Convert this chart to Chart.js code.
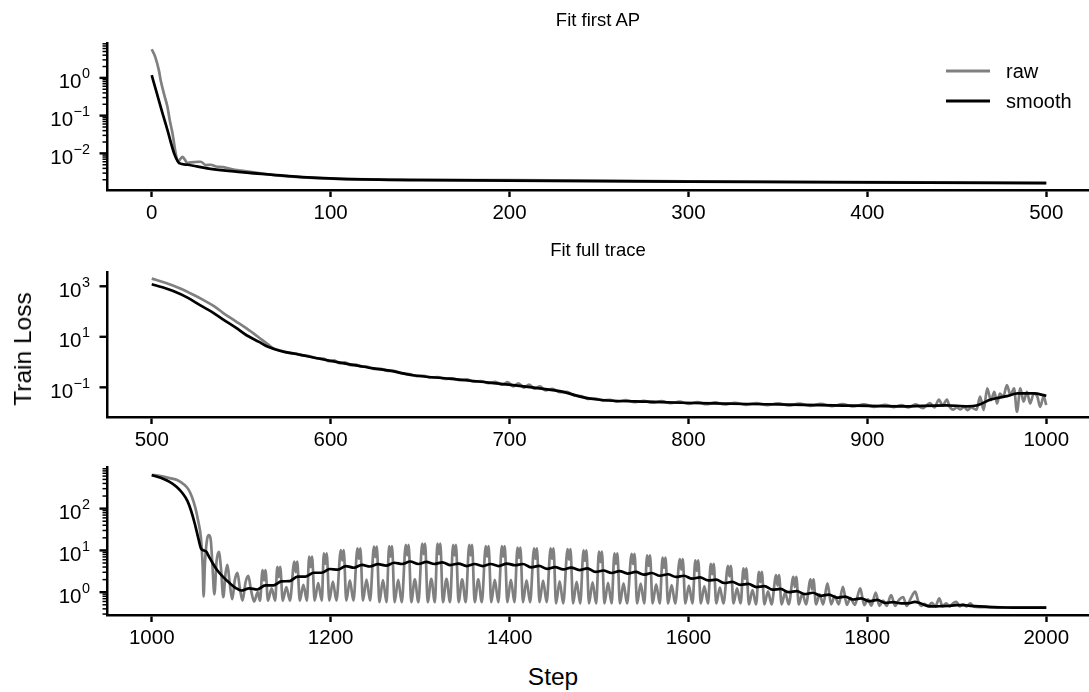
<!DOCTYPE html>
<html>
<head>
<meta charset="utf-8">
<script src="https://cdn.jsdelivr.net/npm/chart.js@4.4.1/dist/chart.umd.min.js"></script>
<style>
  html, body { margin: 0; padding: 0; background: #fff; width: 1089px; height: 692px; overflow: hidden; }
  canvas { position: absolute; left: 0; }
  .txt { position: absolute; font-family: "Liberation Sans", Arial, Helvetica, sans-serif; color: #000; white-space: nowrap; transform: translate(-50%, -50%); }
  #title1 { left: 598px; top: 20px; font-size: 18.5px; }
  #title2 { left: 598px; top: 250px; font-size: 18.5px; }
  #ylabel { left: 23px; top: 349px; font-size: 24.5px; transform: translate(-50%, -50%) rotate(-90deg); }
  #xlabel { left: 553px; top: 677px; font-size: 24.5px; }
</style>
</head>
<body>
<canvas id="p1" width="1091" height="240" style="top:0px"></canvas>
<canvas id="p2" width="1091" height="215" style="top:240px"></canvas>
<canvas id="p3" width="1091" height="200" style="top:455px"></canvas>
<div class="txt" id="title1">Fit first AP</div>
<div class="txt" id="title2">Fit full trace</div>
<div class="txt" id="ylabel">Train Loss</div>
<div class="txt" id="xlabel">Step</div>
<script>
// ---- panel 1: Fit first AP ----
const p1RawStep = [0, 2, 4, 5, 7, 8.8, 10, 11.6, 13.4, 14.7, 16, 17.2, 18.5, 19.9, 22, 24.5, 27.4, 30.2, 33, 36, 40, 45, 50, 60, 70, 85, 100, 150, 200, 300, 400, 500];
const p1RawLoss = [5.75, 3.55, 1.58, 0.87, 0.355, 0.17, 0.079, 0.034, 0.010, 0.0060, 0.0071, 0.0081, 0.0068, 0.0056, 0.0058, 0.0059, 0.0060, 0.0049, 0.0050, 0.0045, 0.0043, 0.0038, 0.0035, 0.0030, 0.0026, 0.0023, 0.00215, 0.0020, 0.00195, 0.00182, 0.00173, 0.00165];
const p1SmoothStep = [0, 3, 6, 9, 12.5, 14.4, 15.3, 20, 31, 50, 68, 87, 106, 150, 200, 300, 400, 500];
const p1SmoothLoss = [1.18, 0.37, 0.117, 0.038, 0.010, 0.0063, 0.0055, 0.0050, 0.0040, 0.0032, 0.0027, 0.0023, 0.0021, 0.00195, 0.0019, 0.00178, 0.0017, 0.00162];
const p1XTicks = [0, 100, 200, 300, 400, 500];
const p1YMajor = [0.01, 0.1, 1];
const p1YExp = ['\u22122', '\u22121', '0'];
const p1YMinor = [0.002, 0.003, 0.004, 0.005, 0.006, 0.007, 0.008, 0.009, 0.02, 0.03, 0.04, 0.05, 0.06, 0.07, 0.08, 0.09, 0.2, 0.3, 0.4, 0.5, 0.6, 0.7, 0.8, 0.9, 2, 3, 4, 5, 6, 7, 8];

// ---- panel 2: Fit full trace ----
const p2RawStep = [500, 508, 516, 523, 529, 535, 540, 547, 553, 559, 565, 568, 572, 576, 580, 584, 588, 592, 596, 599, 602, 605, 608, 611, 614, 617, 620, 624, 628, 632, 636, 640, 644, 648, 652, 656, 660, 664, 668, 672, 676, 680, 684, 688, 692, 696, 699, 702, 705, 708, 711, 714, 717, 720, 724, 728, 732, 736, 740, 744, 748, 752, 756, 760, 765, 770, 775, 780, 785, 790, 795, 800, 805, 810, 815, 820, 826, 832, 838, 844, 850, 856, 862, 868, 874, 880, 886, 892, 898, 904, 910, 915, 919, 923, 927, 931, 935, 937.5, 940, 942, 944.5, 946, 948, 950, 952, 954, 956, 958, 961, 963, 965, 967, 969, 971, 972.5, 974, 976, 978, 980, 982, 983.6, 985.5, 987.3, 989.2, 991, 993, 995, 996.6, 998.5, 1000];
const p2RawLoss = [2000, 1350, 813, 470, 282, 160, 87, 41, 21.4, 10.5, 5.0, 3.5, 2.85, 2.35, 2.2, 1.85, 1.72, 1.42, 1.38, 1.08, 1.16, 0.90, 0.98, 0.76, 0.80, 0.66, 0.66, 0.54, 0.535, 0.45, 0.44, 0.355, 0.335, 0.28, 0.285, 0.245, 0.255, 0.218, 0.226, 0.192, 0.205, 0.168, 0.178, 0.148, 0.165, 0.128, 0.16, 0.11, 0.145, 0.098, 0.128, 0.088, 0.11, 0.076, 0.088, 0.064, 0.066, 0.048, 0.045, 0.035, 0.036, 0.030, 0.032, 0.027, 0.031, 0.026, 0.029, 0.0245, 0.0285, 0.0235, 0.027, 0.0222, 0.0262, 0.0215, 0.0252, 0.021, 0.0245, 0.0204, 0.0238, 0.0198, 0.0232, 0.0192, 0.0225, 0.0185, 0.022, 0.018, 0.0215, 0.0175, 0.021, 0.017, 0.0205, 0.0165, 0.0198, 0.016, 0.021, 0.015, 0.024, 0.016, 0.033, 0.019, 0.033, 0.017, 0.0132, 0.016, 0.0135, 0.017, 0.0126, 0.016, 0.013, 0.043, 0.0126, 0.091, 0.031, 0.066, 0.023, 0.057, 0.043, 0.123, 0.049, 0.091, 0.0107, 0.091, 0.027, 0.066, 0.023, 0.057, 0.043, 0.017, 0.043, 0.020];
const p2SmoothStep = [500, 506, 512, 520, 527, 534, 540, 547, 553, 560, 565, 572, 580, 587, 596, 606, 615, 624, 633, 646, 665, 684, 702, 721, 730, 740, 749, 758, 777, 796, 814, 844, 881, 918, 944, 956, 961, 969, 978, 984, 993, 1000];
const p2SmoothLoss = [1200, 912, 646, 355, 178, 93, 48, 23, 11.5, 6.3, 4.0, 2.75, 2.14, 1.70, 1.26, 0.93, 0.72, 0.56, 0.457, 0.30, 0.224, 0.166, 0.123, 0.083, 0.066, 0.042, 0.033, 0.0295, 0.027, 0.0245, 0.023, 0.0214, 0.0195, 0.0178, 0.0195, 0.0178, 0.019, 0.033, 0.045, 0.0575, 0.0575, 0.046];
const p2XTicks = [500, 600, 700, 800, 900, 1000];
const p2YMajor = [0.1, 10, 1000];
const p2YExp = ['\u22121', '1', '3'];
const p2YMinor = [];

// ---- panel 3 ----
const p3RawStep = [1000, 1010, 1020, 1029, 1036, 1041, 1045, 1049, 1052, 1055, 1057, 1058, 1059.5, 1062, 1064, 1066, 1068, 1070, 1072.5, 1075, 1077.5, 1080, 1082.5, 1084.6, 1087, 1090, 1093, 1095.8, 1098.5, 1101.5, 1105, 1108, 1111, 1114.5, 1118.5, 1121,
  1123.9, 1125.5, 1127.1, 1130, 1134, 1138,
  1140.4, 1142, 1143.6, 1146.5, 1150.5, 1154.5,
  1159.4, 1161, 1162.6, 1165.5, 1169.5, 1173.5,
  1176, 1177.6, 1179.2, 1182.1, 1186.1, 1190.1,
  1192.4, 1194, 1195.6, 1198.5, 1202.5, 1206.5,
  1211.4, 1213, 1214.6, 1217.5, 1221.5, 1225.5,
  1230, 1231.6, 1233.2, 1236.1, 1240.1, 1244.1,
  1248.4, 1250, 1251.6, 1254.5, 1258.5, 1262.5,
  1265.4, 1267, 1268.6, 1271.5, 1275.5, 1279.5,
  1284, 1285.6, 1287.2, 1290.1, 1294.1, 1298.1,
  1302.4, 1304, 1305.6, 1308.5, 1312.5, 1316.5,
  1319.4, 1321, 1322.6, 1325.5, 1329.5, 1333.5,
  1336.9, 1338.5, 1340.1, 1343, 1347, 1351,
  1354.9, 1356.5, 1358.1, 1361, 1365, 1369,
  1373.4, 1375, 1376.6, 1379.5, 1383.5, 1387.5,
  1391.4, 1393, 1394.6, 1397.5, 1401.5, 1405.5,
  1408.9, 1410.5, 1412.1, 1415, 1419, 1423,
  1427.4, 1429, 1430.6, 1433.5, 1437.5, 1441.5,
  1445.9, 1447.5, 1449.1, 1452, 1456, 1460,
  1464.9, 1466.5, 1468.1, 1471, 1475, 1479,
  1482.7, 1484.3, 1485.9, 1488.8, 1492.8, 1496.8,
  1500, 1501.6, 1503.2, 1506.1, 1510.1, 1514.1,
  1517.3, 1518.9, 1520.5, 1523.4, 1527.4, 1531.4,
  1536.5, 1538.1, 1539.7, 1542.6, 1546.6, 1550.6,
  1553.8, 1555.4, 1557, 1559.9, 1563.9, 1567.9,
  1571.1, 1572.7, 1574.3, 1577.2, 1581.2, 1585.2,
  1590.4, 1592, 1593.6, 1596.5, 1600.5, 1604.5,
  1607.7, 1609.3, 1610.9, 1613.8, 1617.8, 1621.8,
  1625, 1626.6, 1628.2, 1631.1, 1635.1, 1639.1,
  1644.2, 1645.8, 1647.4, 1650.3, 1654.3, 1658.3,
  1661.5, 1663.1, 1664.7, 1667.6, 1671.6, 1675.6,
  1678.8, 1680.4, 1682, 1684.9, 1688.9, 1692.9,
  1698, 1699.6, 1701.2, 1704.1, 1708.1, 1712.1,
  1717.3, 1718.9, 1720.5, 1723.4, 1727.4, 1731.4,
  1736.5, 1738.1, 1739.7, 1742.6, 1746.6, 1750.6,
  1755.4, 1759.5, 1763.5, 1768, 1772.7, 1777, 1781, 1786, 1792, 1796.5, 1800.5, 1804.5, 1809.3, 1813.5, 1817.5, 1821.5, 1826.6, 1831, 1835.5, 1840, 1844, 1848.5, 1853.5, 1857, 1860, 1864, 1868, 1872, 1876, 1880.4, 1884, 1888, 1892, 1896, 1899.6, 1903, 1907, 1911, 1915, 1919, 1925, 1940, 1960, 2000];
const p3RawLoss = [646, 603, 537, 479, 380, 288, 190, 100, 50, 20, 4.0, 0.79, 5.0, 19, 23.4, 17.8, 4.0, 0.89, 5.6, 9.3, 3.55, 0.76, 2.8, 4.5, 1.78, 0.68, 2.0, 2.9, 1.26, 0.63, 1.78, 2.45, 1.12, 0.60, 1.0, 0.63,
  3.39, 1.91, 3.39, 0.631, 1.23, 0.631,
  4.07, 2.29, 4.07, 0.631, 1.33, 0.631,
  5.37, 3.02, 5.37, 0.631, 1.49, 0.631,
  7.08, 3.98, 7.08, 0.631, 1.66, 0.631,
  8.51, 4.79, 8.51, 0.631, 1.79, 0.631,
  10.2, 5.75, 10.2, 0.631, 1.92, 0.631,
  11.2, 6.31, 11.2, 0.631, 2.0, 0.631,
  12.3, 6.92, 12.3, 0.575, 1.96, 0.575,
  12.6, 7.08, 12.6, 0.575, 1.98, 0.575,
  13.5, 7.59, 13.5, 0.575, 2.03, 0.575,
  14.5, 8.13, 14.5, 0.575, 2.09, 0.575,
  14.5, 8.13, 14.5, 0.575, 2.09, 0.575,
  13.5, 7.59, 13.5, 0.575, 2.03, 0.575,
  13.5, 7.59, 13.5, 0.575, 2.03, 0.575,
  12.6, 7.08, 12.6, 0.575, 1.98, 0.575,
  12.6, 7.08, 12.6, 0.575, 1.98, 0.575,
  11.7, 6.61, 11.7, 0.575, 1.92, 0.575,
  11.2, 6.31, 11.2, 0.575, 1.89, 0.575,
  11.2, 6.31, 11.2, 0.537, 1.81, 0.537,
  10.7, 6.03, 10.7, 0.537, 1.78, 0.537,
  10.0, 5.62, 10.0, 0.537, 1.73, 0.537,
  9.33, 5.25, 9.33, 0.537, 1.68, 0.537,
  8.51, 4.79, 8.51, 0.537, 1.62, 0.537,
  8.32, 4.68, 8.32, 0.537, 1.61, 0.537,
  7.59, 4.27, 7.59, 0.537, 1.55, 0.537,
  6.76, 3.80, 6.76, 0.537, 1.48, 0.537,
  6.17, 3.47, 6.17, 0.537, 1.43, 0.537,
  5.75, 3.24, 5.75, 0.537, 1.39, 0.537,
  4.79, 2.69, 4.79, 0.537, 1.29, 0.537,
  4.27, 2.40, 4.27, 0.537, 1.23, 0.537,
  3.72, 2.09, 3.72, 0.513, 1.13, 0.513,
  3.09, 1.74, 3.09, 0.513, 1.05, 0.513,
  2.57, 1.45, 2.57, 0.513, 0.977, 0.513,
  2.34, 1.32, 2.34, 0.513, 0.94, 0.513,
  2.04, 1.15, 2.04, 0.513, 0.89, 0.513,
  1.62, 0.513, 0.81, 0.513, 1.35, 0.50, 0.72, 0.50, 1.23, 0.49, 0.676, 0.48, 0.977, 0.47, 0.63, 0.47, 0.85, 0.47, 0.66, 0.76, 0.47, 0.71, 1.035, 0.6, 0.47, 0.525, 0.46, 0.56, 0.46, 0.71, 0.46, 0.54, 0.46, 0.55, 0.59, 0.46, 0.51, 0.46, 0.54, 0.45, 0.44, 0.44, 0.43, 0.427];
const p3SmoothStep = [1000, 1010, 1020, 1028, 1034, 1040, 1044, 1048, 1052, 1055, 1058, 1061, 1064, 1068, 1073, 1080, 1087, 1094, 1100,
  1109, 1118, 1127, 1136, 1145, 1154, 1163, 1172, 1181, 1190, 1199, 1208, 1217, 1226, 1235, 1244, 1253, 1262, 1271, 1280, 1289, 1298, 1307, 1316, 1325, 1334, 1343, 1352, 1361, 1370, 1379, 1388, 1397, 1406, 1415, 1424, 1433, 1442, 1451, 1460, 1469, 1478, 1487, 1496, 1505, 1514, 1523, 1532, 1541, 1550, 1559, 1568, 1577, 1586, 1595, 1604, 1613, 1622, 1631, 1640, 1649, 1658, 1667, 1676, 1685, 1694, 1703, 1712, 1721, 1730, 1739, 1748, 1757, 1766, 1775, 1784, 1793, 1802, 1811, 1820, 1829, 1838,
  1847, 1853, 1860, 1866, 1872, 1880, 1890, 1900, 1907, 1915, 1925, 1938, 1955, 1970, 2000];
const p3SmoothLoss = [631, 550, 437, 331, 240, 151, 89, 44.7, 20, 11.2, 10, 9.3, 7.1, 5.0, 3.4, 2.29, 1.66, 1.26, 1.10,
  1.24, 1.16, 1.46, 1.46, 1.82, 1.84, 2.37, 2.37, 2.92, 2.92, 3.59, 3.47, 4.22, 3.85, 4.52, 4.12, 4.68, 4.32, 5.07, 4.73, 5.43, 4.73, 5.31, 4.73, 5.19, 4.47, 4.84, 4.22, 4.73, 4.22, 4.73, 4.22, 4.84, 4.42, 4.73, 3.94, 4.27, 3.63, 3.98, 3.51, 3.89, 3.39, 3.72, 3.05, 3.31, 2.88, 3.20, 2.79, 3.05, 2.63, 2.88, 2.48, 2.69, 2.32, 2.48, 2.11, 2.26, 1.91, 2.00, 1.66, 1.76, 1.50, 1.58, 1.33, 1.40, 1.15, 1.20, 1.00, 1.06, 0.90, 0.97, 0.82, 0.88, 0.74, 0.785, 0.67, 0.716, 0.61, 0.653, 0.556, 0.58, 0.543,
  0.55, 0.59, 0.537, 0.479, 0.457, 0.462, 0.468, 0.49, 0.49, 0.473, 0.457, 0.442, 0.431, 0.427, 0.427];
const p3XTicks = [1000, 1200, 1400, 1600, 1800, 2000];
const p3YMajor = [1, 10, 100];
const p3YExp = ['0', '1', '2'];
const p3YMinor = [0.3, 0.4, 0.5, 0.6, 0.7, 0.8, 0.9, 2, 3, 4, 5, 6, 7, 8, 9, 20, 30, 40, 50, 60, 70, 80, 90, 200, 300, 400, 500, 600, 700, 800, 900];

const FONT = '"Liberation Sans", Arial, Helvetica, sans-serif';
const RAW_COLOR = '#808080';
const TICK_SIZE = 20.5;

function series(steps, loss, color) {
  return {
    data: steps.map((s, i) => ({ x: s, y: loss[i] })),
    borderColor: color,
    borderWidth: 2.7,
    pointRadius: 0,
    fill: false,
    cubicInterpolationMode: 'monotone',
    borderJoinStyle: 'round'
  };
}

// log axis ticks with 10^n labels, drawn by hand so the exponent can be raised
function logAxisDecor(majors, exps, minors) {
  return {
    id: 'logAxisDecor',
    afterDraw(chart) {
      const { ctx, chartArea, scales: { y } } = chart;
      const x0 = chartArea.left;
      ctx.save();
      ctx.strokeStyle = '#000';
      ctx.lineWidth = 1.5;
      minors.forEach(v => {
        const py = y.getPixelForValue(v);
        ctx.beginPath(); ctx.moveTo(x0 - 4.5, py); ctx.lineTo(x0, py); ctx.stroke();
      });
      ctx.lineWidth = 2.4;
      ctx.fillStyle = '#000';
      ctx.textAlign = 'right';
      ctx.textBaseline = 'alphabetic';
      majors.forEach((v, i) => {
        const py = y.getPixelForValue(v);
        ctx.beginPath(); ctx.moveTo(x0 - 7.5, py); ctx.lineTo(x0, py); ctx.stroke();
        const right = x0 - 17;
        ctx.font = '14.4px ' + FONT;
        ctx.fillText(exps[i], right, py + 0.5);
        const w = ctx.measureText(exps[i]).width;
        ctx.font = TICK_SIZE + 'px ' + FONT;
        ctx.fillText('10', right - w - 0.5, py + 10.5);
      });
      ctx.restore();
    }
  };
}

const legendDecor = {
  id: 'legendDecor',
  afterDraw(chart) {
    const { ctx } = chart;
    const items = [['raw', RAW_COLOR, 71], ['smooth', '#000', 101]];
    ctx.save();
    ctx.font = '20px ' + FONT;
    ctx.textBaseline = 'middle';
    ctx.textAlign = 'left';
    items.forEach(([label, color, y]) => {
      ctx.strokeStyle = color;
      ctx.lineWidth = 2.8;
      ctx.beginPath(); ctx.moveTo(946, y); ctx.lineTo(990, y); ctx.stroke();
      ctx.fillStyle = '#000';
      ctx.fillText(label, 1006, y + 1);
    });
    ctx.restore();
  }
};

function makePanel(id, opts) {
  const canvas = document.getElementById(id);
  const plugins = [logAxisDecor(opts.yMajor, opts.yExp, opts.yMinor)];
  if (opts.legend) plugins.push(legendDecor);
  return new Chart(canvas.getContext('2d'), {
    type: 'line',
    data: {
      datasets: [
        Object.assign(series(opts.smoothStep, opts.smoothLoss, '#000'), { label: 'smooth' }),
        Object.assign(series(opts.rawStep, opts.rawLoss, RAW_COLOR), { label: 'raw' })
      ]
    },
    options: {
      responsive: false,
      animation: false,
      devicePixelRatio: 1,
      layout: { padding: { top: opts.top, left: 0, right: 0, bottom: 0 } },
      scales: {
        x: {
          type: 'linear',
          min: opts.xMin,
          max: opts.xMax,
          afterBuildTicks: s => { s.ticks = opts.xTicks.map(v => ({ value: v })); },
          afterFit: s => { s.height = canvas.height - opts.bottom; },
          grid: { display: true, drawOnChartArea: false, drawTicks: true, tickLength: 7, tickWidth: 2.4, tickColor: '#000' },
          border: { display: true, color: '#000', width: 2.5 },
          ticks: { color: '#000', font: { size: TICK_SIZE, family: FONT }, padding: 4, maxRotation: 0, autoSkip: false, callback: v => String(v) }
        },
        y: {
          type: 'logarithmic',
          min: opts.yMin,
          max: opts.yMax,
          afterFit: s => { s.width = 107; },
          grid: { display: false },
          border: { display: true, color: '#000', width: 2.5 },
          ticks: { display: false }
        }
      },
      plugins: { legend: { display: false }, tooltip: { enabled: false }, title: { display: false } }
    },
    plugins: plugins
  });
}

makePanel('p1', {
  rawStep: p1RawStep, rawLoss: p1RawLoss, smoothStep: p1SmoothStep, smoothLoss: p1SmoothLoss,
  xTicks: p1XTicks, xMin: -25, xMax: 525, yMin: 0.00107, yMax: 8.4,
  yMajor: p1YMajor, yExp: p1YExp, yMinor: p1YMinor,
  top: 43, bottom: 190, legend: true
});
makePanel('p2', {
  rawStep: p2RawStep, rawLoss: p2RawLoss, smoothStep: p2SmoothStep, smoothLoss: p2SmoothLoss,
  xTicks: p2XTicks, xMin: 475, xMax: 1025, yMin: 0.0067, yMax: 3670,
  yMajor: p2YMajor, yExp: p2YExp, yMinor: p2YMinor,
  top: 32, bottom: 177
});
makePanel('p3', {
  rawStep: p3RawStep, rawLoss: p3RawLoss, smoothStep: p3SmoothStep, smoothLoss: p3SmoothLoss,
  xTicks: p3XTicks, xMin: 950, xMax: 2050, yMin: 0.285, yMax: 990,
  yMajor: p3YMajor, yExp: p3YExp, yMinor: p3YMinor,
  top: 12, bottom: 160
});
</script>
</body>
</html>
